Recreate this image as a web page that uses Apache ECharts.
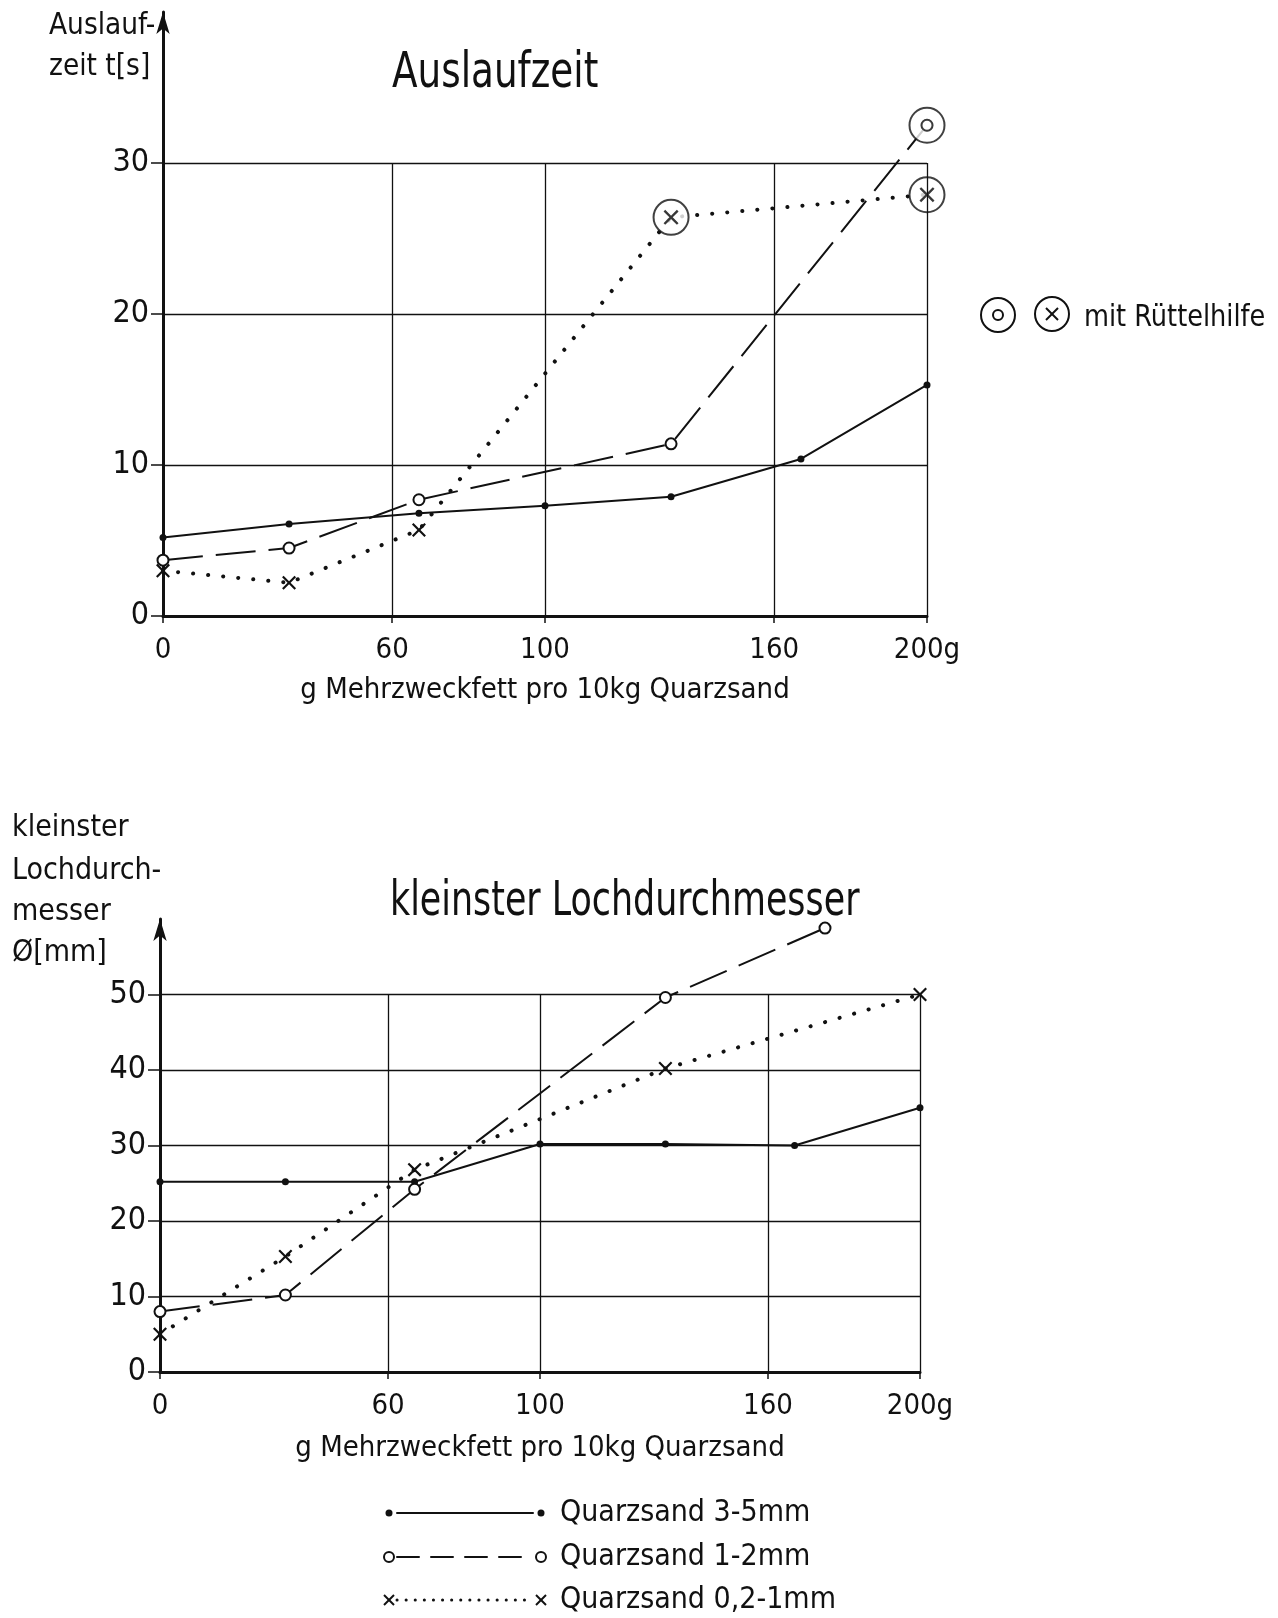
<!DOCTYPE html>
<html>
<head>
<meta charset="utf-8">
<script src="https://cdn.jsdelivr.net/npm/echarts@6/dist/echarts.min.js"></script>
<style>
  html, body { margin: 0; padding: 0; background: #fff; }
  #chart { width: 1278px; height: 1618px; }
</style>
</head>
<body>
<div id="chart"></div>
<script>
// ---- x axis: g Mehrzweckfett pro 10 kg Quarzsand ----
const xTicks = [0, 60, 100, 160, 200];
const xTickLabels = ['0', '60', '100', '160', '200g'];
const xGridLines = [60, 100, 160, 200];

// ---- Auslaufzeit t [s] ----
const ausTicks = [0, 10, 20, 30];
const ausX_35 = [0, 33, 67, 100, 133, 167, 200];
const aus_35  = [5.2, 6.1, 6.8, 7.3, 7.9, 10.4, 15.3];     // Quarzsand 3-5mm
const ausX_12 = [0, 33, 67, 133, 200];
const aus_12  = [3.7, 4.5, 7.7, 11.4, 32.5];               // Quarzsand 1-2mm
const ausX_021 = [0, 33, 67, 133, 200];
const aus_021  = [3.0, 2.2, 5.7, 26.4, 27.9];              // Quarzsand 0,2-1mm
// indices of the points measured "mit Rüttelhilfe"
const ruettel_12 = [4];
const ruettel_021 = [3, 4];

// ---- kleinster Lochdurchmesser Ø [mm] ----
const lochTicks = [0, 10, 20, 30, 40, 50];
const lochX_35 = [0, 33, 67, 100, 133, 167, 200];
const loch_35  = [25.2, 25.2, 25.2, 30.2, 30.2, 30.0, 35.0];
const lochX_12 = [0, 33, 67, 133, 175];
const loch_12  = [8.0, 10.2, 24.2, 49.6, 58.8];
const lochX_021 = [0, 33, 67, 133, 200];
const loch_021  = [5.0, 15.3, 26.8, 40.2, 50.0];

const INK = '#111';
const FONT = "'DejaVu Sans Condensed', 'Liberation Sans Narrow', 'Roboto Condensed', 'DejaVu Sans', sans-serif";
const X_MARK = 'path://M0,2.2L2.2,0L10,7.8L17.8,0L20,2.2L12.2,10L20,17.8L17.8,20L10,12.2L2.2,20L0,17.8L7.8,10Z';

const zip = (xs, ys) => xs.map((x, i) => [x, ys[i]]);
const pick = (xs, ys, idx) => idx.map(i => [xs[i], ys[i]]);

function xAxis(gridIndex, nameGap) {
  return {
    type: 'value', gridIndex, min: 0, max: 200, interval: 20,
    axisLine: { show: true, onZero: false, lineStyle: { color: INK, width: 3 } },
    axisTick: { show: true, customValues: xTicks, length: 7, lineStyle: { color: INK, width: 1.5 } },
    axisLabel: {
      customValues: xTicks, margin: 20, color: INK, fontFamily: FONT, fontSize: 29,
      formatter: v => xTickLabels[xTicks.indexOf(v)]
    },
    splitLine: { show: false },
    name: 'g Mehrzweckfett pro 10kg Quarzsand', nameLocation: 'middle', nameGap,
    nameTextStyle: { color: INK, fontFamily: FONT, fontSize: 29 }
  };
}

function yAxis(gridIndex, max, ticks) {
  const colors = [];
  for (let v = 0; v <= max; v += 10) colors.push(v > 0 && v <= ticks[ticks.length - 1] ? INK : 'rgba(0,0,0,0)');
  return {
    type: 'value', gridIndex, min: 0, max, interval: 10,
    axisLine: { show: true, onZero: false, symbol: ['none', 'arrow'], symbolSize: [10, 22],
                lineStyle: { color: INK, width: 3 } },
    axisTick: { show: true, customValues: ticks, length: 12, lineStyle: { color: INK, width: 1.5 } },
    axisLabel: { customValues: ticks, margin: 14, color: INK, fontFamily: FONT, fontSize: 32 },
    splitLine: { show: true, lineStyle: { color: colors, width: 1.3 } }
  };
}

function gridLines(top) {
  return {
    silent: true, symbol: ['none', 'none'], label: { show: false },
    lineStyle: { color: INK, width: 1.3, type: 'solid' },
    emphasis: { disabled: true },
    data: xGridLines.map(x => [{ coord: [x, 0] }, { coord: [x, top] }])
  };
}

function seriesSet(gi, d35, d12, d021, gridTop) {
  return [
    {
      name: 'Quarzsand 3-5mm', type: 'line', xAxisIndex: gi, yAxisIndex: gi, data: d35, z: 2,
      symbol: 'circle', symbolSize: 7, itemStyle: { color: INK },
      lineStyle: { color: INK, width: 2 }, markLine: gridLines(gridTop)
    },
    {
      name: 'Quarzsand 1-2mm', type: 'line', xAxisIndex: gi, yAxisIndex: gi, data: d12, z: 2,
      symbol: 'circle', symbolSize: 11, itemStyle: { color: '#fff', borderColor: INK, borderWidth: 2 },
      lineStyle: { color: INK, width: 2, type: [40, 13] }
    },
    {
      name: 'Quarzsand 0,2-1mm', type: 'line', xAxisIndex: gi, yAxisIndex: gi, data: d021, z: 2,
      symbol: X_MARK, symbolSize: 14, itemStyle: { color: INK },
      lineStyle: { color: INK, width: 4, type: [0.1, 15], cap: 'round' }
    }
  ];
}

const ruettelPts = pick(ausX_12, aus_12, ruettel_12).concat(pick(ausX_021, aus_021, ruettel_021));

const series = [
  ...seriesSet(0, zip(ausX_35, aus_35), zip(ausX_12, aus_12), zip(ausX_021, aus_021), 30),
  {
    name: 'mit Rüttelhilfe', type: 'scatter', xAxisIndex: 0, yAxisIndex: 0, z: 3,
    data: ruettelPts, symbol: 'circle', symbolSize: 35,
    itemStyle: { color: '#fff', borderColor: INK, borderWidth: 2 }
  },
  {
    type: 'scatter', xAxisIndex: 0, yAxisIndex: 0, z: 4,
    data: pick(ausX_12, aus_12, ruettel_12), symbol: 'circle', symbolSize: 11,
    itemStyle: { color: '#fff', borderColor: INK, borderWidth: 2 }
  },
  {
    type: 'scatter', xAxisIndex: 0, yAxisIndex: 0, z: 4,
    data: pick(ausX_021, aus_021, ruettel_021), symbol: X_MARK, symbolSize: 15,
    itemStyle: { color: INK }
  },
  ...seriesSet(1, zip(lochX_35, loch_35), zip(lochX_12, loch_12), zip(lochX_021, loch_021), 50)
];

// text and key drawn around the two plots
const txt = (text, x, y, size, scaleX) => ({
  type: 'text', x, y, scaleX: scaleX || 1,
  style: { text, fill: INK, font: size + 'px ' + FONT, textVerticalAlign: 'middle' }
});

const keyRows = [
  { y: 1513, label: 'Quarzsand 3-5mm', kind: 'dot' },
  { y: 1557, label: 'Quarzsand 1-2mm', kind: 'ring' },
  { y: 1600, label: 'Quarzsand 0,2-1mm', kind: 'cross' }
];
function keyMark(kind, cx, cy, r) {
  if (kind === 'dot') return { type: 'circle', shape: { cx, cy, r: 3.5 }, style: { fill: INK } };
  if (kind === 'ring') return { type: 'circle', shape: { cx, cy, r: 5 }, style: { fill: '#fff', stroke: INK, lineWidth: 2 } };
  const h = r || 5;
  return { type: 'group', children: [
    { type: 'line', shape: { x1: cx - h, y1: cy - h, x2: cx + h, y2: cy + h }, style: { stroke: INK, lineWidth: 2 } },
    { type: 'line', shape: { x1: cx + h, y1: cy - h, x2: cx - h, y2: cy + h }, style: { stroke: INK, lineWidth: 2 } }
  ] };
}
const keyDash = { dot: null, ring: [22, 12], cross: [0.1, 9] };
const keyElems = [];
keyRows.forEach(r => {
  keyElems.push({ type: 'line', shape: { x1: 397, y1: r.y, x2: 533, y2: r.y },
    style: { stroke: INK, lineWidth: r.kind === 'cross' ? 3 : 2, lineDash: keyDash[r.kind], lineCap: 'round' } });
  keyElems.push(keyMark(r.kind, 389, r.y));
  keyElems.push(keyMark(r.kind, 541, r.y));
  keyElems.push(txt(r.label, 560, r.y, 30));
});

const graphic = [
  txt('Auslauf-', 49, 26, 31, 0.95),
  txt('zeit t[s]', 49, 67, 31, 0.95),
  txt('Auslaufzeit', 392, 74, 50, 0.83),
  // mit Rüttelhilfe key
  { type: 'circle', shape: { cx: 998, cy: 315, r: 17 }, style: { fill: '#fff', stroke: INK, lineWidth: 2 } },
  { type: 'circle', shape: { cx: 998, cy: 315, r: 5 }, style: { fill: '#fff', stroke: INK, lineWidth: 2 } },
  { type: 'circle', shape: { cx: 1052, cy: 314, r: 17 }, style: { fill: '#fff', stroke: INK, lineWidth: 2 } },
  keyMark('cross', 1052, 314, 6),
  txt('mit Rüttelhilfe', 1084, 318, 30, 0.95),
  // second plot
  txt('kleinster', 12, 828, 30),
  txt('Lochdurch-', 12, 871, 30),
  txt('messer', 12, 912, 30),
  txt('Ø[mm]', 12, 953, 30),
  txt('kleinster Lochdurchmesser', 390, 903, 48, 0.807),
  ...keyElems
];

const chart = echarts.init(document.getElementById('chart'), null, { renderer: 'canvas' });
chart.setOption({
  backgroundColor: '#fff',
  animation: false,
  grid: [
    { left: 163, right: 351, top: 12, bottom: 1002 },
    { left: 160, right: 358, top: 919, bottom: 246 }
  ],
  xAxis: [xAxis(0, 60), xAxis(1, 62)],
  yAxis: [yAxis(0, 40, ausTicks), yAxis(1, 60, lochTicks)],
  series,
  graphic
});
</script>
</body>
</html>
